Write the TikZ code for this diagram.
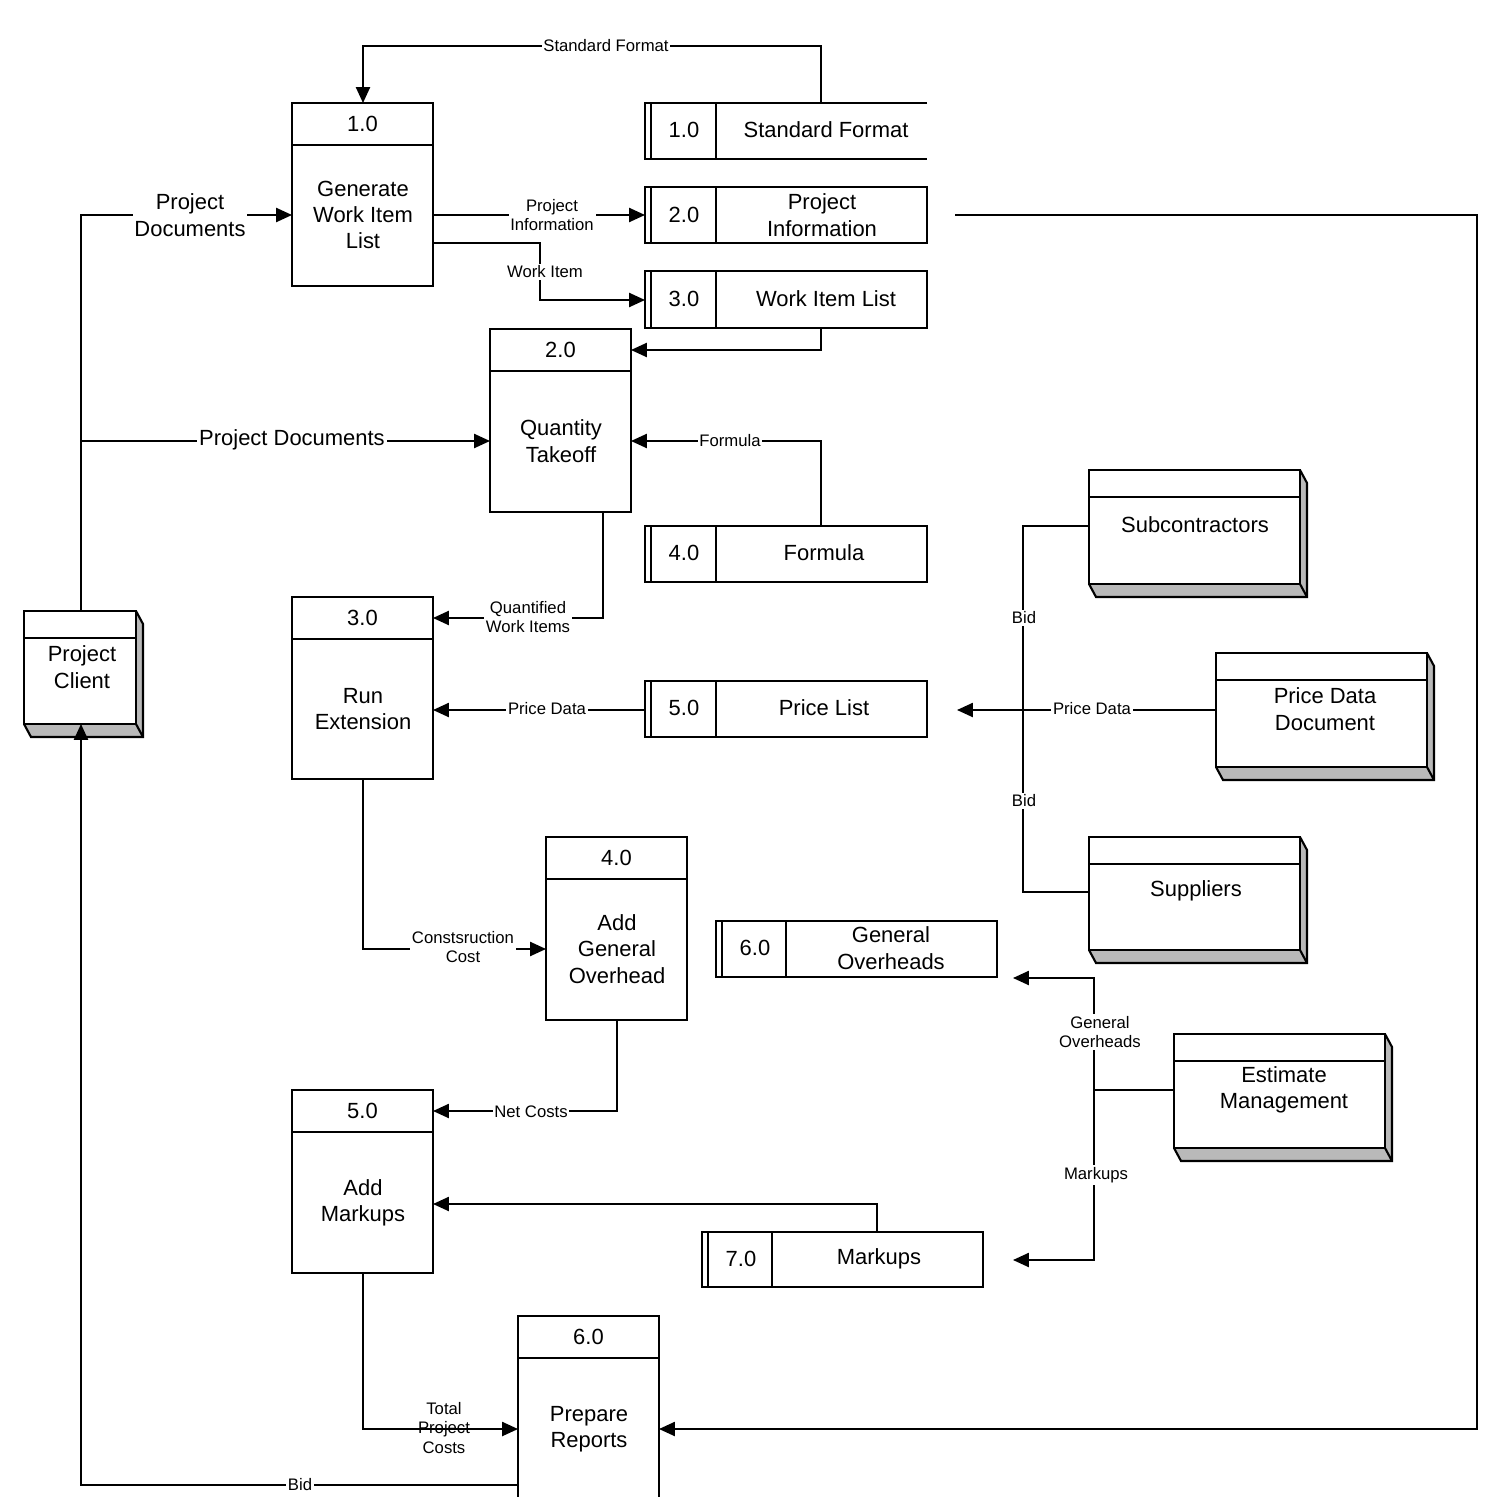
\documentclass[tikz,border=0pt]{standalone}
\usepackage{fontspec}
\setmainfont{Liberation Sans}
\usetikzlibrary{arrows.meta}
\begin{document}
\begin{tikzpicture}[x=0.02cm,y=-0.02cm,line width=1.2pt,
  big/.style={font=\fontsize{12.5}{15}\selectfont,align=center,inner sep=1pt},
  lbl/.style={font=\fontsize{9.5}{11}\selectfont,align=center,fill=white,inner sep=1pt},
  arr/.style={-{Triangle[length=9pt,width=8pt]}},
  flow/.style={line width=1pt}]
\useasboundingbox (0,0) rectangle (1498,1497);
\newcommand{\proc}[6]{% name x1 y1 x2 y2 ; number ; text via #6
  \draw (#2,#3) rectangle (#4,#5);
  \draw (#2,#3+42) -- (#4,#3+42);
  \node[big] (#1n) at ({(#2+#4)/2},#3+21) {#6};
  \coordinate (#1) at ({(#2+#4)/2},{(#3+#5)/2});}
\newcommand{\store}[6]{% name x1 y1 x2 y2 divider
  \draw (#2,#3) rectangle (#4,#5);
  \draw (#2+6,#3) -- (#2+6,#5);
  \draw (#6,#3) -- (#6,#5);}
\newcommand{\ent}[5]{% x1 y1 x2 y2 header
  \fill[gray!55] (#1,#4) -- (#3,#4) -- (#3,#2) -- (#3+7,#2+13) -- (#3+7,#4+13) -- (#1+7,#4+13) -- cycle;
  \draw (#1,#4) -- (#1+7,#4+13) -- (#3+7,#4+13) -- (#3+7,#2+13) -- (#3,#2);
  \draw (#3,#4) -- (#3+7,#4+13);
  \draw[fill=white] (#1,#2) rectangle (#3,#4);
  \draw (#1,#5) -- (#3,#5);}

% processes
\proc{p1}{292}{103}{433}{286}{1.0}
\node[big] (p1t) at (363,215) {Generate\\Work Item\\List};
\proc{p2}{490}{329}{631}{512}{2.0}
\node[big] (p2t) at (561,441) {Quantity\\Takeoff};
\proc{p3}{292}{597}{433}{779}{3.0}
\node[big] (p3t) at (363,709) {Run\\Extension};
\proc{p4}{546}{837}{687}{1020}{4.0}
\node[big] (p4t) at (617,949) {Add\\General\\Overhead};
\proc{p5}{292}{1090}{433}{1273}{5.0}
\node[big] (p5t) at (363,1203) {Add\\Markups};
\proc{p6}{518}{1316}{659}{1510}{6.0}
\node[big] (p6t) at (589,1429) {Prepare\\Reports};

% stores
\draw (927,103) -- (645,103) -- (645,159) -- (927,159);
\draw (651,103) -- (651,159); \draw (716,103) -- (716,159);
\node[big] (d1n) at (684,130) {1.0};
\node[big] (d1t) at (826,130) {Standard Format};
\store{d2}{645}{187}{927}{243}{716}
\node[big] (d2n) at (684,215) {2.0};
\node[big] (d2t) at (822,215) {Project\\Information};
\store{d3}{645}{271}{927}{328}{716}
\node[big] (d3n) at (684,299) {3.0};
\node[big] (d3t) at (826,299) {Work Item List};
\store{d4}{645}{526}{927}{582}{716}
\node[big] (d4n) at (684,553) {4.0};
\node[big] (d4t) at (824,553) {Formula};
\store{d5}{645}{681}{927}{737}{716}
\node[big] (d5n) at (684,708) {5.0};
\node[big] (d5t) at (824,708) {Price List};
\store{d6}{716}{921}{997}{977}{786}
\node[big] (d6n) at (755,948) {6.0};
\node[big] (d6t) at (891,948) {General\\Overheads};
\store{d7}{702}{1232}{983}{1287}{772}
\node[big] (d7n) at (741,1259) {7.0};
\node[big] (d7t) at (879,1259) {Markups};

% entities
\ent{24}{611}{136}{724}{638}
\node[big] (pc) at (82,667) {Project\\Client};
\ent{1089}{470}{1300}{584}{497}
\node[big] (sub) at (1195,525) {Subcontractors};
\ent{1216}{653}{1427}{767}{680}
\node[big] (pdd) at (1325,709) {Price Data\\Document};
\ent{1089}{837}{1300}{950}{864}
\node[big] (sup) at (1196,891) {Suppliers};
\ent{1174}{1034}{1385}{1148}{1061}
\node[big] (em) at (1284,1090) {Estimate\\Management};

\coordinate (pctop) at (81,611);
\coordinate (pcbot) at (81,724);

% connectors
\draw[flow,arr] (821,103) -- (821,46) -- (363,46) -- (363,103);
\node[lbl] at (606,46) {Standard Format};
\draw[flow,arr] (pctop) -- (81,215) -- (292,215);
\node[big,fill=white] at (190,215) {Project\\Documents};
\draw[flow,arr] (81,441) -- (490,441);
\node[big,fill=white] at (292,440) {Project Documents};
\draw[flow,arr] (433,215) -- (645,215);
\node[lbl] at (552,215) {Project\\Information};
\draw[flow,arr] (433,243) -- (540,243) -- (540,300) -- (645,300);
\node[lbl] at (545,272) {Work Item};
\draw[flow,arr] (821,328) -- (821,350) -- (631,350);
\draw[flow,arr] (821,526) -- (821,441) -- (631,441);
\node[lbl] at (730,441) {Formula};
\draw[flow,arr] (603,512) -- (603,618) -- (433,618);
\node[lbl] at (528,617) {Quantified\\Work Items};
\draw[flow,arr] (645,710) -- (433,710);
\node[lbl] at (547,709) {Price Data};
\draw[flow,arr] (1216,710) -- (957,710);
\draw[flow] (1089,526) -- (1023,526) -- (1023,892) -- (1089,892);
\node[lbl] at (1092,709) {Price Data};
\node[lbl] at (1024,618) {Bid};
\node[lbl] at (1024,801) {Bid};
\draw[flow,arr] (363,779) -- (363,949) -- (546,949);
\node[lbl] at (463,947) {Constsruction\\Cost};
\draw[flow,arr] (617,1020) -- (617,1111) -- (433,1111);
\node[lbl] at (531,1112) {Net Costs};
\draw[flow,arr] (877,1232) -- (877,1204) -- (433,1204);
\draw[flow] (1174,1090) -- (1094,1090);
\draw[flow,arr] (1094,1090) -- (1094,978) -- (1013,978);
\draw[flow,arr] (1094,1090) -- (1094,1260) -- (1013,1260);
\node[lbl] at (1100,1032) {General\\Overheads};
\node[lbl] at (1096,1175) {Markups};
\draw[flow,arr] (363,1273) -- (363,1429) -- (518,1429);
\node[lbl,fill=none] at (444,1428) {Total\\Project\\Costs};
\draw[flow,arr] (955,215) -- (1477,215) -- (1477,1429) -- (659,1429);
\draw[flow,arr] (518,1485) -- (81,1485) -- (pcbot);
\node[lbl] at (300,1485) {Bid};
\end{tikzpicture}
\end{document}
